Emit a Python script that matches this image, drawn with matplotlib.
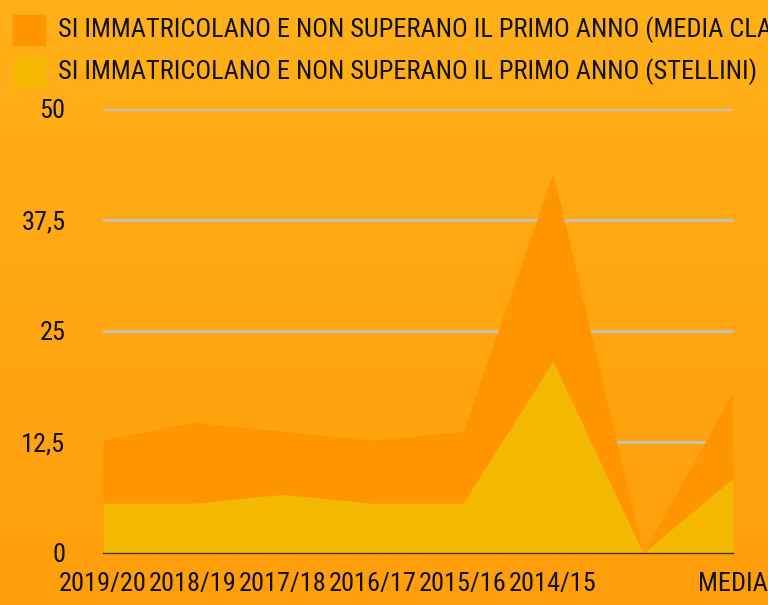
import numpy as np
import matplotlib.pyplot as plt

plt.rcParams['font.family'] = ['Roboto Condensed', 'DejaVu Sans']

categories = ['2019/20', '2018/19', '2017/18', '2016/17', '2015/16', '2014/15', '', 'MEDIA']
media_classe = [12.7, 14.7, 13.7, 12.7, 13.7, 42.8, 0, 18.1]
stellini = [5.6, 5.6, 6.6, 5.6, 5.6, 21.6, 0, 8.4]
yticks = [0, 12.5, 25, 37.5, 50]
ytick_labels = ['0', '12,5', '25', '37,5', '50']
legend_labels = ['SI IMMATRICOLANO E NON SUPERANO IL PRIMO ANNO (MEDIA CLASSE)',
                 'SI IMMATRICOLANO E NON SUPERANO IL PRIMO ANNO (STELLINI)']
colors = ['#FF9500', '#F5B800']

fig = plt.figure(figsize=(7.68, 6.05), dpi=100)

# gradient background
bg = fig.add_axes([0, 0, 1, 1], zorder=0)
grad = np.linspace(0, 1, 256).reshape(-1, 1)
top = np.array([255, 176, 24]) / 255
bot = np.array([255, 158, 12]) / 255
img = top + (bot - top) * grad[:, :, None]
bg.imshow(img, aspect='auto', extent=[0, 1, 0, 1])
bg.axis('off')

ax = fig.add_axes([103/768, 52/605, 630/768, 444/605], zorder=1)
ax.patch.set_alpha(0)
x = np.arange(len(categories))

for yv in yticks[1:]:
    ax.axhline(yv, color='#C3C3C3', lw=2, zorder=1)

ax.fill_between(x, media_classe, color=colors[0], lw=0, zorder=2)
ax.fill_between(x, stellini, color=colors[1], lw=0, zorder=3)

ax.set_xlim(0, len(categories) - 1)
ax.set_ylim(0, 50)
for s in ['top', 'right', 'left']:
    ax.spines[s].set_visible(False)
ax.spines['bottom'].set_color('#3a3a3a')
ax.spines['bottom'].set_linewidth(1)
ax.spines['bottom'].set_zorder(4)

ax.set_xticks(x)
ax.set_xticklabels(categories, fontsize=19, color='#111111')
ax.set_yticks(yticks)
ax.set_yticklabels(ytick_labels, fontsize=19, color='#111111')
ax.tick_params(axis='x', length=0, pad=14)
ax.tick_params(axis='y', length=0, pad=27)

# legend
for i, (lab, c) in enumerate(zip(legend_labels, colors)):
    y0 = 605 - 15 - i * 42
    fig.patches.append(plt.Rectangle((13/768, (y0 - 30)/605), 32/768, 30/605,
                                     transform=fig.transFigure, color=c, zorder=5))
    fig.text(58/768, (y0 - 15)/605, lab, fontsize=19, color='#111111',
             va='center', ha='left', zorder=5)

fig.savefig('out.png', dpi=100)
